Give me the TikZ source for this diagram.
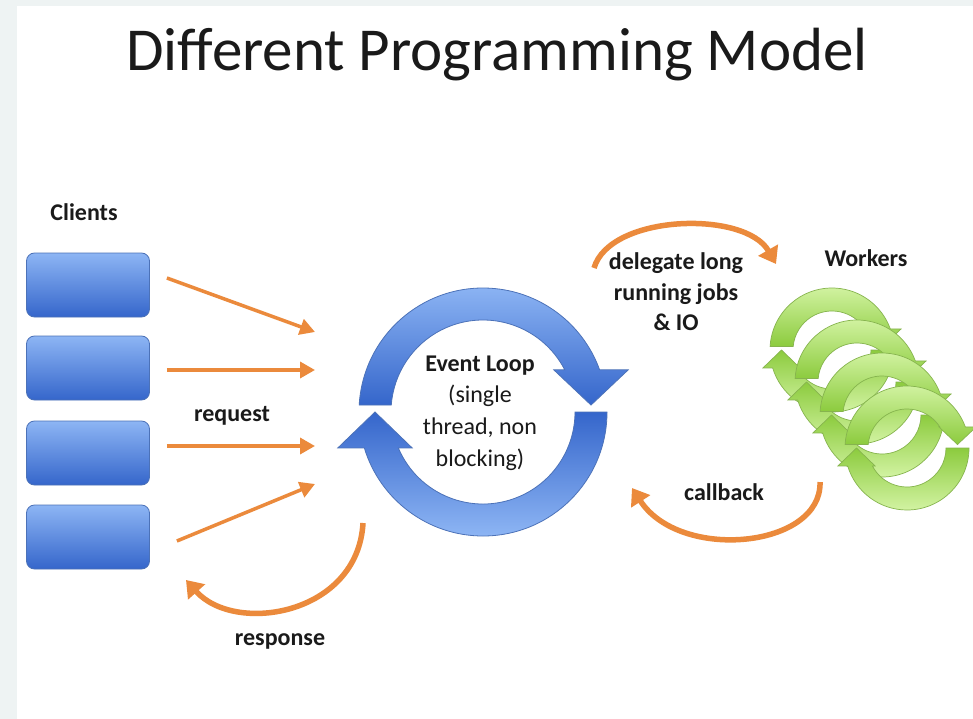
\documentclass[tikz,border=0pt]{standalone}
\usepackage{fontspec}
\setmainfont{Carlito}
\usetikzlibrary{arrows.meta,calc}
\definecolor{org}{HTML}{EB8A3C}
\definecolor{bgside}{HTML}{EEF3F3}
\definecolor{blueL}{HTML}{8DB5F4}
\definecolor{blueD}{HTML}{3566CB}
\definecolor{blueE}{HTML}{4C72B8}
\definecolor{grnL}{HTML}{D2F3A2}
\definecolor{grnD}{HTML}{8CCB3E}
\definecolor{grnE}{HTML}{86B44E}
\definecolor{txt}{HTML}{1A1A1A}
% #1 centre, #2 outer radius, #3 inner radius, #4 upper style, #5 lower style
\newcommand\cyclearrows[5]{%
\begin{scope}[shift={#1}, yscale=-1]
\pgfmathsetmacro\cyM{(#2+#3)/2}
\pgfmathsetmacro\cyH{0.3*#2}
\pgfmathsetmacro\cyB{0.34*#2}
\pgfmathsetmacro\cyBL{0.29*#2}
\pgfmathsetmacro\cyT{0.056*#2}
\pgfmathsetmacro\cyAo{asin(\cyB/#2)}
\pgfmathsetmacro\cyAi{asin(\cyB/#3)}
\pgfmathsetmacro\cySo{180-asin(\cyT/#2)}
\pgfmathsetmacro\cySi{180-asin(\cyT/#3)}
\pgfmathsetmacro\cyLo{-180+asin(\cyBL/#2)}
\pgfmathsetmacro\cyLi{-180+asin(\cyBL/#3)}
\path[#4] (\cySo:#2) arc[start angle=\cySo, end angle=\cyAo, radius=#2] -- (\cyM+\cyH,\cyB) -- (\cyM,\cyT) -- (\cyM-\cyH,\cyB) -- (\cyAi:#3) arc[start angle=\cyAi, end angle=\cySi, radius=#3] -- cycle;
\path[#5] (0:#2) arc[start angle=0, end angle=\cyLo, radius=#2] -- (-\cyM-\cyH,-\cyBL) -- (-\cyM,0) -- (-\cyM+\cyH,-\cyBL) -- (\cyLi:#3) arc[start angle=\cyLi, end angle=0, radius=#3] -- cycle;
\end{scope}}
\tikzset{
  client/.style={draw=blueE, line width=0.8pt, rounded corners=8pt, top color=blueL, bottom color=blueD, minimum width=123pt, minimum height=64pt, inner sep=0pt},
  lbl/.style={text=txt, font=\fontsize{24}{30.5}\selectfont\bfseries, align=center, inner sep=0pt},
  reqarrow/.style={draw=org, line width=3.5pt, -{Triangle[length=15pt,width=16pt]}},
  curvarrow/.style={draw=org, line width=5.5pt, -{Triangle[length=16pt,width=22pt]}},
  blueup/.style={draw=blueE, line width=0.8pt, top color=blueL, bottom color=blueD},
  bluelo/.style={draw=blueE, line width=0.8pt, top color=blueD, bottom color=blueL},
  grnup/.style={draw=grnE, line width=0.7pt, top color=grnL, bottom color=grnD},
  grnlo/.style={draw=grnE, line width=0.7pt, top color=grnD, bottom color=grnL},
}
\begin{document}
\begin{tikzpicture}[x=1pt, y=-1pt]
\useasboundingbox (0,0) rectangle (973,719);
\fill[bgside] (0,0) rectangle (973,719);
\fill[white] (17,6) rectangle (973,719);

% title
\node[text=txt, font=\fontsize{61}{70}\selectfont, inner sep=0pt] (title) at (497,55) {Different Programming Model};

% clients
\node[lbl] (clients) at (84,212) {Clients};
\node[client] (c1) at (88,285) {};
\node[client] (c2) at (88,368) {};
\node[client] (c3) at (88,453) {};
\node[client] (c4) at (88,537) {};

% event loop
\cyclearrows{(483,412)}{124}{92}{blueup}{bluelo}
\node[text=txt, font=\fontsize{24}{31.7}\selectfont, align=center, inner sep=0pt] (loop) at (480,413) {\textbf{Event Loop}\\(single\\thread, non\\blocking)};

% request arrows
\coordinate (r1) at (315,332);
\coordinate (r2) at (315,370);
\coordinate (r3) at (315,446);
\coordinate (r4) at (315,484);
\draw[reqarrow] ([shift={(17,-7)}]c1.east) -- (r1);
\draw[reqarrow] ([shift={(17,2)}]c2.east) -- (r2);
\draw[reqarrow] ([shift={(17,-7)}]c3.east) -- (r3);
\draw[reqarrow] ([shift={(27,4)}]c4.east) -- (r4);
\node[lbl] (request) at (232,416) {request};

% response
\coordinate (resp0) at (363,523);
\coordinate (resp1) at (186,580);
\draw[curvarrow] (resp0) .. controls (358,615) and (235,635) .. (resp1);
\node[lbl] (response) at (280,641) {response};

% workers
\node[lbl] (workers) at (866,258) {Workers};
\cyclearrows{(832,350)}{62}{39}{grnup}{grnlo}
\cyclearrows{(857,382)}{62}{39}{grnup}{grnlo}
\cyclearrows{(882,415)}{62}{39}{grnup}{grnlo}
\cyclearrows{(907,448)}{62}{39}{grnup}{grnlo}

% delegate
\coordinate (del0) at (594,268);
\coordinate (del1) at (776,264);
\draw[curvarrow] (del0) .. controls (610,214) and (745,210) .. (del1);
\node[lbl] (delegate) at (676,292) {delegate long\\running jobs\\\& IO};

% callback
\coordinate (cb0) at (820,482);
\coordinate (cb1) at (632,488);
\draw[curvarrow] (cb0) .. controls (822,548) and (680,562) .. (cb1);
\node[lbl] (callback) at (724,492) {callback};
\end{tikzpicture}
\end{document}
